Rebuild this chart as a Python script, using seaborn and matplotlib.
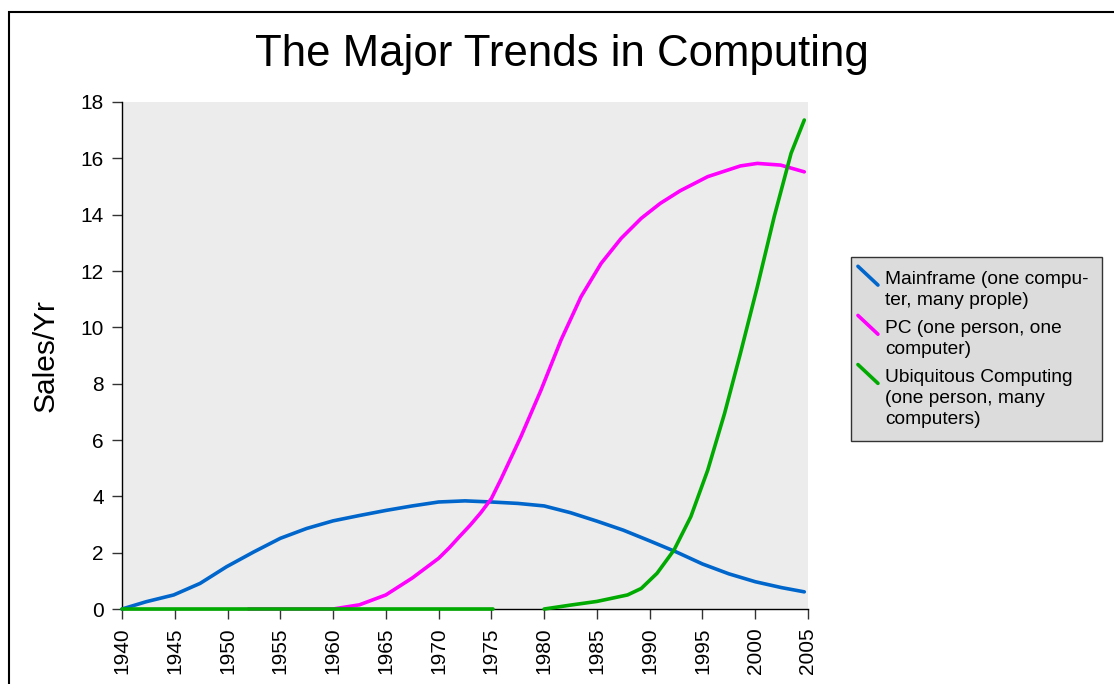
import numpy as np
import pandas as pd
import matplotlib
matplotlib.use("Agg")
import matplotlib.pyplot as plt
import seaborn as sns
from matplotlib.legend_handler import HandlerLine2D
from matplotlib.lines import Line2D
from matplotlib.patches import Rectangle

# data
main_years = [1940, 1942.3, 1944.9, 1947.4, 1949.9, 1952.5, 1955, 1957.5, 1960, 1962.5, 1965, 1967.5,
              1970, 1972.5, 1975, 1977.5, 1980, 1982.5, 1985, 1987.5, 1990, 1992.5, 1995, 1997.5,
              2000, 2002.5, 2004.65]
main_sales = [0, 0.26, 0.5, 0.91, 1.5, 2.03, 2.51, 2.86, 3.13, 3.32, 3.5, 3.66,
              3.8, 3.84, 3.8, 3.75, 3.66, 3.42, 3.12, 2.8, 2.42, 2.03, 1.6, 1.25,
              0.97, 0.76, 0.61]

pc_years = [1952, 1955, 1960, 1962.5, 1965, 1967.5, 1970, 1971, 1972, 1973, 1974, 1975, 1975.9,
            1977.8, 1979.7, 1981.6, 1983.5, 1985.4, 1987.3, 1989.2, 1991, 1992.9, 1995.5, 1998.6,
            2000.2, 2002.4, 2004.65]
pc_sales = [0, 0, 0, 0.15, 0.5, 1.1, 1.8, 2.17, 2.58, 2.98, 3.42, 3.92, 4.6,
            6.12, 7.77, 9.55, 11.09, 12.27, 13.16, 13.87, 14.4, 14.85, 15.35, 15.73,
            15.82, 15.76, 15.52]

ubi_years_a = [1940, 1975.2]
ubi_sales_a = [0, 0]
ubi_years_b = [1980, 1982.5, 1985, 1987.9, 1989.2, 1990.7, 1992.3, 1993.9, 1995.5, 1997.1, 1998.6,
               2000.2, 2001.8, 2003.4, 2004.65]
ubi_sales_b = [0, 0.14, 0.27, 0.5, 0.73, 1.27, 2.09, 3.28, 4.93, 6.95, 9.08,
               11.44, 13.93, 16.18, 17.36]

labels = ["Mainframe (one compu-\nter, many prople)",
          "PC (one person, one\ncomputer)",
          "Ubiquitous Computing\n(one person, many\ncomputers)"]
colors = ["#0066cc", "#ff00ff", "#00aa00"]
x_ticks = list(range(1940, 2006, 5))
y_ticks = list(range(0, 19, 2))

sns.set_style("white", {"text.color": "black", "axes.labelcolor": "black",
                        "xtick.color": "black", "ytick.color": "black"})
plt.rcParams["font.family"] = ["Liberation Sans", "DejaVu Sans"]

fig = plt.figure(figsize=(11.14, 6.84), dpi=100)
ax = fig.add_axes([0.1095, 0.1096, 0.6158, 0.7413])
ax.set_facecolor("#ececec")

lw = 2.6
sns.lineplot(x=main_years, y=main_sales, ax=ax, color=colors[0], lw=lw, clip_on=False, zorder=3)
sns.lineplot(x=pc_years, y=pc_sales, ax=ax, color=colors[1], lw=lw, clip_on=False, zorder=3)
sns.lineplot(x=ubi_years_a, y=ubi_sales_a, ax=ax, color=colors[2], lw=lw, clip_on=False, zorder=4)
sns.lineplot(x=ubi_years_b, y=ubi_sales_b, ax=ax, color=colors[2], lw=lw, clip_on=False, zorder=4)

ax.set_xlim(1940, 2005)
ax.set_ylim(0, 18)
ax.set_xticks(x_ticks)
ax.set_yticks(y_ticks)
ax.set_xticklabels([str(t) for t in x_ticks], rotation=90, fontsize=15)
ax.set_yticklabels([str(t) for t in y_ticks], fontsize=15)
ax.tick_params(axis="both", direction="out", length=7, width=1, color="#333333", pad=6)
ax.tick_params(axis="x", bottom=True)
ax.tick_params(axis="y", left=True)
for side in ["top", "right"]:
    ax.spines[side].set_visible(False)
for side in ["left", "bottom"]:
    ax.spines[side].set_color("black")
    ax.spines[side].set_linewidth(1)
ax.set_xlabel("")
ax.set_ylabel("Sales/Yr", fontsize=21.5, labelpad=15)

fig.text(0.504, 0.920, "The Major Trends in Computing", ha="center", va="center", fontsize=31.5)


class DiagonalHandler(HandlerLine2D):
    # short "\" stroke, pulled a little to the left of its box
    def create_artists(self, legend, orig_handle, xdescent, ydescent, width, height, fontsize, trans):
        x0 = -5.0
        line = Line2D([x0, x0 + 14.4], [height * 1.35, -height * 0.05],
                      color=orig_handle.get_color(), lw=orig_handle.get_linewidth())
        line.set_transform(trans)
        return [line]


handles = [Line2D([], [], color=c, lw=lw) for c in colors]
leg = fig.legend(handles, labels, loc="upper left", bbox_to_anchor=(0.764, 0.624),
                 bbox_transform=fig.transFigure, borderaxespad=0, fontsize=13.8,
                 handler_map={Line2D: DiagonalHandler()}, handlelength=0.7, handletextpad=0.35,
                 labelspacing=0.6, borderpad=0.72, frameon=True, fancybox=False)
leg.get_frame().set_facecolor("#dcdcdc")
leg.get_frame().set_edgecolor("#333333")
leg.get_frame().set_linewidth(1)
leg.get_frame().set_alpha(1)
for t in leg.get_texts():
    t.set_linespacing(1.28)
# put each handle next to the first line of its label
for col in leg._legend_handle_box.get_children():
    for item in col.get_children():
        item.align = "top"

# frame around the figure (only left and top edges show)
fig.patches.append(Rectangle((9 / 1114, -0.1), 1.2, 1.1 - 12 / 684, transform=fig.transFigure,
                             fill=False, edgecolor="black", lw=1.5, zorder=0))

fig.savefig("out.png", dpi=100)
